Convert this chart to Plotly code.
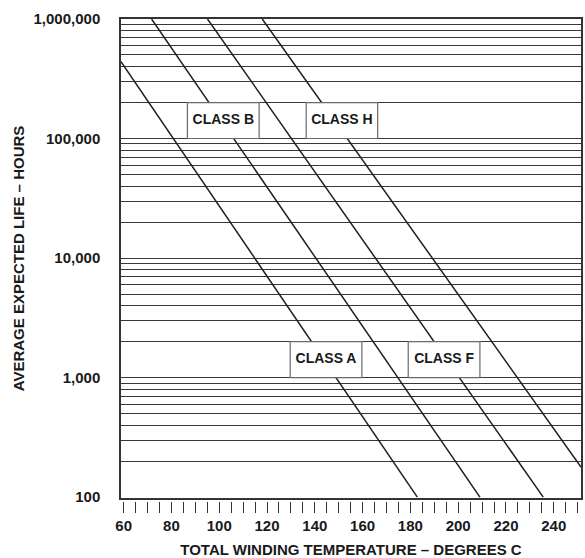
import math
import plotly.graph_objects as go

# ---- data ----
class_names = ["CLASS A", "CLASS B", "CLASS F", "CLASS H"]
temps_A = [58.9, 182.9]
life_A = [440000, 100]
temps_B = [71.7, 209.1]
life_B = [1000000, 100]
temps_F = [95.1, 235.6]
life_F = [1000000, 100]
temps_H = [118.0, 251.4]
life_H = [1000000, 178]

# label boxes (temperature span, life span)
box_x0 = [129.7, 86.7, 179.1, 136.4]
box_x1 = [159.7, 116.7, 209.1, 166.3]
box_y0 = [1000, 100000, 1000, 100000]
box_y1 = [2000, 200000, 2000, 200000]

x_tick_vals = list(range(60, 251, 5))
x_tick_text = [str(v) if v % 20 == 0 else "" for v in x_tick_vals]
y_grid_vals = [m * 10 ** e for e in range(2, 6) for m in range(1, 10)] + [1000000]
y_label_map = {100: "100", 1000: "1,000", 10000: "10,000", 100000: "100,000", 1000000: "1,000,000"}
y_tick_text = [y_label_map.get(v, "") for v in y_grid_vals]

FONT = "Liberation Sans, Arial, sans-serif"
LINE = "#1e1e1e"
GRID = "#383838"

fig = go.Figure()
for tx, ly in [(temps_A, life_A), (temps_B, life_B), (temps_F, life_F), (temps_H, life_H)]:
    fig.add_trace(go.Scatter(x=tx, y=ly, mode="lines", line=dict(color=LINE, width=1.5),
                             hoverinfo="skip", showlegend=False))

for i, name in enumerate(class_names):
    xs = [box_x0[i], box_x1[i], box_x1[i], box_x0[i], box_x0[i]]
    ys = [box_y0[i], box_y0[i], box_y1[i], box_y1[i], box_y0[i]]
    fig.add_trace(go.Scatter(x=xs, y=ys, mode="lines", fill="toself", fillcolor="white",
                             line=dict(color="#6a6a6a", width=1.2), hoverinfo="skip", showlegend=False))
    fig.add_trace(go.Scatter(x=[(box_x0[i] + box_x1[i]) / 2],
                             y=[math.sqrt(box_y0[i] * box_y1[i])],
                             mode="text", text=[name],
                             textfont=dict(family=FONT, size=14, color="#1a1a1a", weight="bold"),
                             hoverinfo="skip", showlegend=False))

# invisible trace for the detached tick axis
fig.add_trace(go.Scatter(x=[60, 250], y=[100, 100], xaxis="x2", yaxis="y", mode="markers",
                         marker=dict(opacity=0), hoverinfo="skip", showlegend=False))

xr = [58.9, 251.4]
fig.update_layout(
    width=585, height=558,
    margin=dict(l=121, r=4, t=19, b=57),
    plot_bgcolor="white", paper_bgcolor="white",
    font=dict(family=FONT, size=15, color="#1a1a1a", weight="bold"),
    xaxis=dict(range=xr, showgrid=False, zeroline=False, showticklabels=False, ticks="",
               showline=True, mirror=True, linecolor="#333", linewidth=1.5, anchor="y",
               automargin=False),
    xaxis2=dict(range=xr, overlaying="x", anchor="free", position=0, showline=False,
                showgrid=False, zeroline=False, ticks="outside", ticklen=11, tickwidth=1,
                tickcolor="#333", tickmode="array", tickvals=x_tick_vals, ticktext=x_tick_text,
                tickfont=dict(family=FONT, size=15, weight="bold"), automargin=False,
                title=dict(text="TOTAL WINDING TEMPERATURE – DEGREES C", standoff=12,
                           font=dict(family=FONT, size=15, weight="bold"))),
    yaxis=dict(type="log", range=[1.992, 6.0], domain=[0.0062, 1], showgrid=True,
               gridcolor=GRID, gridwidth=1.4, zeroline=False, ticks="",
               tickmode="array", tickvals=y_grid_vals, ticktext=y_tick_text,
               ticklabelstandoff=16, automargin=False,
               showline=True, mirror=True, linecolor="#333", linewidth=1.5,
               tickfont=dict(family=FONT, size=15, weight="bold"),
               title=dict(text="AVERAGE EXPECTED LIFE – HOURS", standoff=5,
                          font=dict(family=FONT, size=15, weight="bold"))),
)

fig.write_html("out.html", config={"displayModeBar": False},
               post_script="document.body.style.margin='0';document.body.style.padding='0';")
